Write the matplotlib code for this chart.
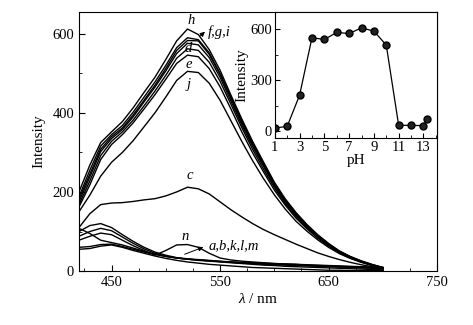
import matplotlib
matplotlib.use("Agg")
import matplotlib.pyplot as plt
from matplotlib.ticker import MultipleLocator, FixedLocator

plt.rcParams['font.family'] = 'Liberation Serif'
plt.rcParams['mathtext.fontset'] = 'custom'
plt.rcParams['mathtext.rm'] = 'Liberation Serif'
plt.rcParams['mathtext.it'] = 'Liberation Serif:italic'

# wavelength grid of the emission spectra (nm)
wl = [420, 430, 440, 450, 460, 470, 480, 490, 500, 510, 520, 530, 540, 550, 560,
      570, 580, 590, 600, 610, 620, 630, 640, 650, 660, 670, 680, 690, 700]

# strong emission curves (pH 4 - 10)
h = [200, 268, 325, 352, 378, 413, 452, 490, 535, 582, 612, 598, 560, 508, 445,
     385, 328, 276, 225, 183, 148, 118, 92, 70, 51, 37, 26, 17, 9]
i = [188, 255, 316, 345, 368, 402, 440, 478, 520, 565, 590, 585, 552, 500, 440,
     380, 324, 272, 222, 180, 145, 116, 90, 68, 50, 36, 25, 16, 9]
f = [182, 245, 308, 340, 362, 395, 432, 470, 512, 558, 583, 582, 548, 497, 437,
     376, 320, 269, 219, 178, 143, 114, 89, 67, 49, 36, 25, 16, 9]
g = [175, 238, 302, 335, 358, 390, 428, 465, 506, 550, 576, 572, 540, 490, 430,
     370, 315, 265, 216, 175, 141, 113, 88, 66, 48, 35, 24, 15, 8]
d = [168, 228, 292, 328, 352, 382, 418, 455, 495, 538, 562, 558, 528, 480, 422,
     363, 308, 258, 211, 171, 138, 110, 86, 65, 47, 34, 24, 15, 8]
e = [162, 218, 282, 320, 345, 375, 410, 446, 485, 525, 546, 542, 512, 466, 410,
     352, 299, 251, 205, 167, 134, 107, 83, 63, 46, 33, 23, 15, 8]
j = [150, 192, 240, 275, 300, 330, 365, 400, 440, 482, 505, 502, 475, 432, 380,
     328, 279, 234, 193, 157, 126, 101, 79, 60, 44, 32, 22, 14, 8]

# pH 3
c = [110, 145, 168, 172, 173, 176, 180, 183, 190, 200, 212, 208, 195, 175, 155,
     137, 120, 105, 92, 80, 68, 57, 46, 37, 29, 22, 16, 11, 7]

# weak emission curves
a = [88, 100, 108, 102, 86, 70, 56, 45, 38, 33, 30, 28, 26, 24, 22,
     20, 19, 17, 16, 15, 14, 13, 12, 11, 10, 9, 8, 7, 6]
b = [100, 115, 120, 110, 92, 75, 60, 48, 40, 34, 31, 29, 27, 25, 23,
     21, 20, 18, 17, 16, 15, 14, 13, 12, 11, 10, 9, 8, 7]
k = [108, 95, 78, 72, 66, 58, 50, 43, 37, 33, 30, 27, 25, 23, 21,
     19, 17, 15, 14, 12, 11, 10, 9, 8, 7, 6, 5, 4, 3]
l = [60, 62, 67, 68, 62, 55, 48, 42, 37, 33, 30, 28, 26, 24, 23,
     22, 21, 20, 19, 18, 17, 16, 15, 14, 13, 12, 11, 10, 9]
m = [55, 57, 63, 66, 60, 52, 45, 38, 32, 27, 23, 20, 17, 15, 13,
     11, 9, 8, 7, 6, 5, 4, 3, 2, 2, 1, 1, 1, 1]
n = [78, 88, 96, 92, 78, 64, 52, 40, 52, 66, 67, 60, 45, 33, 28,
     25, 23, 21, 19, 18, 17, 15, 14, 13, 12, 11, 10, 9, 8]

# inset: intensity vs pH
ph = [1, 2, 3, 4, 5, 6, 7, 8, 9, 10, 11, 12, 13, 13.3]
ph_int = [19, 29, 212, 549, 539, 580, 574, 607, 588, 506, 35, 35, 33, 70]

fig = plt.figure(figsize=(4.73, 3.25), dpi=100)
ax = fig.add_axes([0.167, 0.166, 0.757, 0.797])

for curve in [a, b, c, d, e, f, g, h, i, j, k, l, m, n]:
    ax.plot(wl, curve, color='black', lw=1.0)

ax.set_xlim(420, 750)
ax.set_ylim(0, 655)
ax.xaxis.set_major_locator(FixedLocator([450, 550, 650, 750]))
ax.xaxis.set_minor_locator(MultipleLocator(25))
ax.yaxis.set_major_locator(MultipleLocator(200))
ax.yaxis.set_minor_locator(MultipleLocator(100))
ax.tick_params(which='both', direction='in', top=False, right=False, labelsize=10.5)
ax.tick_params(which='major', length=4)
ax.tick_params(which='minor', length=2.5)
ax.set_xlabel(r'$\lambda$ / nm', fontsize=11, labelpad=2)
ax.set_ylabel('Intensity', fontsize=11, labelpad=5)

# curve letters
lab = dict(fontsize=10.5, style='italic', ha='center', va='center')
ax.text(523, 634, 'h', **lab)
ax.text(521, 563, 'd', **lab)
ax.text(521, 523, 'e', **lab)
ax.text(521, 472, 'j', **lab)
ax.text(522, 241, 'c', **lab)
ax.text(518, 88, 'n', **lab)
ax.annotate('', xy=(538, 610), xytext=(530, 590),
            arrowprops=dict(arrowstyle='-|>', color='black', lw=0.7, mutation_scale=7))
ax.text(539, 603, 'f,g,i', fontsize=10.5, style='italic', ha='left', va='center')
ax.annotate('', xy=(537, 63), xytext=(515, 40),
            arrowprops=dict(arrowstyle='-|>', color='black', lw=0.7, mutation_scale=7))
ax.text(539, 63, 'a,b,k,l,m', fontsize=10.5, style='italic', ha='left', va='center')

# inset
ins = fig.add_axes([0.581, 0.575, 0.343, 0.388])
ins.plot(ph, ph_int, color='black', lw=0.9, marker='o', markersize=5,
         markerfacecolor='#222222', markeredgecolor='black')
ins.set_xlim(1, 14.1)
ins.set_ylim(-40, 700)
ins.xaxis.set_major_locator(FixedLocator([1, 3, 5, 7, 9, 11, 13]))
ins.xaxis.set_minor_locator(MultipleLocator(1))
ins.yaxis.set_major_locator(MultipleLocator(300))
ins.yaxis.set_minor_locator(MultipleLocator(150))
ins.tick_params(which='both', direction='in', top=False, right=False, labelsize=10.5, pad=2)
ins.tick_params(which='major', length=3.5)
ins.tick_params(which='minor', length=2)
ins.set_xlabel('pH', fontsize=11, labelpad=0)
ins.set_ylabel('Intensity', fontsize=11, labelpad=1)

fig.savefig('out.png', dpi=100)
